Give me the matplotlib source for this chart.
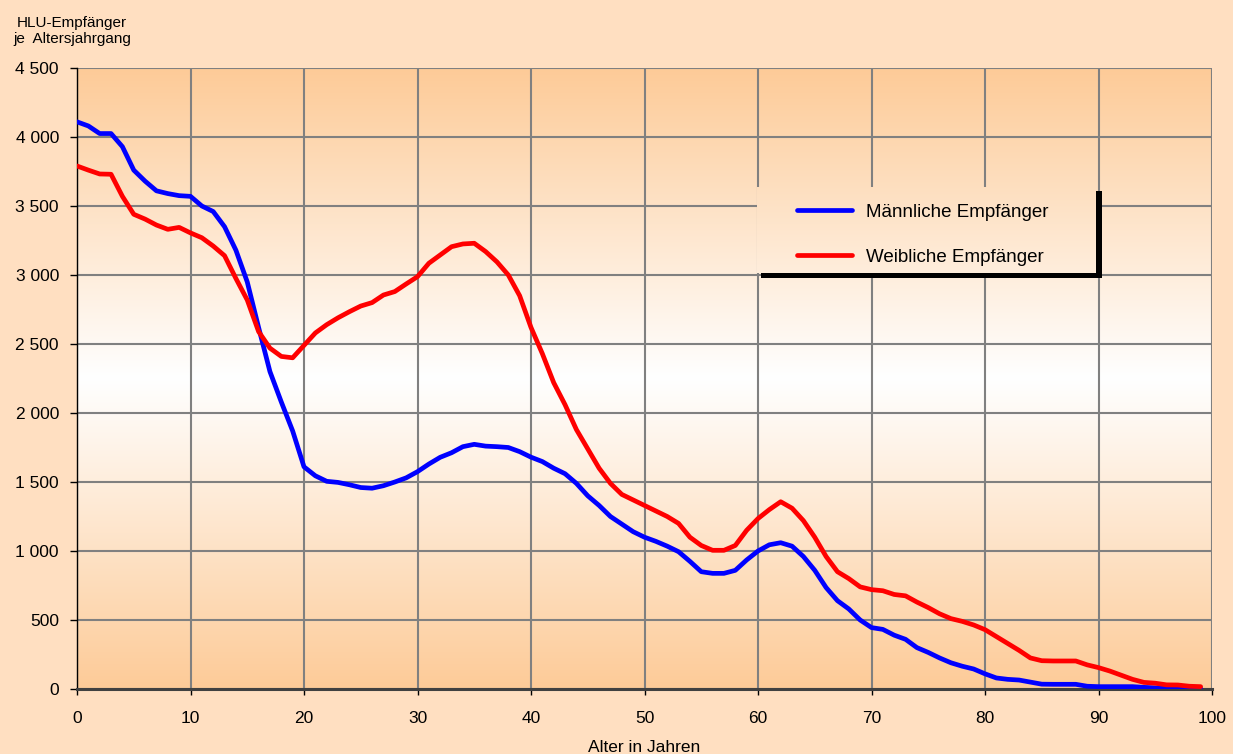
import numpy as np
import matplotlib.pyplot as plt
from matplotlib.patches import Rectangle
from matplotlib.ticker import FuncFormatter

plt.rcParams['font.family'] = ['Liberation Sans', 'DejaVu Sans']

# HLU-Empfänger je Altersjahrgang, Alter 0..99
alter = np.arange(0, 100)

maenner = [4110, 4080, 4025, 4025, 3930, 3760, 3680, 3610, 3590, 3575,
           3570, 3500, 3460, 3350, 3180, 2950, 2620, 2300, 2080, 1870,
           1610, 1545, 1505, 1497, 1480, 1460, 1455, 1473, 1500, 1530,
           1575, 1630, 1679, 1712, 1756, 1773, 1760, 1756, 1750, 1720,
           1680, 1648, 1600, 1560, 1490, 1400, 1330, 1250, 1195, 1140,
           1100, 1070, 1035, 995, 925, 850, 838, 838, 860, 935,
           1000, 1045, 1060, 1035, 960, 860, 735, 640, 580, 500,
           445, 432, 390, 360, 300, 265, 225, 190, 165, 145,
           110, 80, 70, 65, 50, 35, 34, 34, 34, 20,
           17, 17, 17, 17, 12, 8, 6, 5, 4, 3]

frauen = [3790, 3760, 3732, 3730, 3570, 3440, 3405, 3362, 3331, 3345,
          3305, 3270, 3210, 3140, 2975, 2819, 2590, 2470, 2410, 2400,
          2490, 2580, 2640, 2690, 2734, 2775, 2800, 2855, 2880, 2935,
          2988, 3085, 3145, 3205, 3225, 3230, 3170, 3095, 3000, 2850,
          2620, 2430, 2220, 2060, 1880, 1740, 1600, 1490, 1410, 1370,
          1330, 1290, 1250, 1200, 1100, 1040, 1005, 1005, 1040, 1150,
          1235, 1300, 1357, 1310, 1220, 1100, 960, 850, 800, 740,
          720, 712, 685, 675, 630, 590, 545, 510, 490, 464,
          430, 380, 330, 280, 225, 205, 203, 203, 203, 175,
          155, 130, 100, 70, 48, 42, 30, 29, 20, 17]

x_ticks = np.arange(0, 101, 10)
y_ticks = np.arange(0, 4501, 500)

bg = '#FFDFC1'
orange = np.array([253, 203, 152]) / 255.0

fig = plt.figure(figsize=(12.33, 7.54), dpi=100, facecolor=bg)
ax = fig.add_axes([77 / 1233, 65 / 754, 1135 / 1233, 621 / 754])

# vertical gradient: orange at top and bottom, white in the middle
t = np.abs(np.linspace(-1, 1, 400))[:, None]
grad = (1 - t)[..., None] * np.ones(3) + t[..., None] * orange
grad = np.repeat(grad, 2, axis=1)
ext = [0, 100, 0, 4500]
ax.imshow(grad, extent=ext, aspect='auto', zorder=0, interpolation='bilinear')

ax.set_xlim(0, 100)
ax.set_ylim(0, 4500)
ax.set_axisbelow(True)
ax.grid(True, color='#808080', linewidth=1.5)

ax.plot(alter, maenner, color='#0000FF', linewidth=3.4, label='Männliche Empfänger',
        zorder=3, solid_joinstyle='round', solid_capstyle='round')
ax.plot(alter, frauen, color='#FF0000', linewidth=3.4, label='Weibliche Empfänger',
        zorder=3, solid_joinstyle='round', solid_capstyle='round')

# legend box with black shadow, filled with the same gradient
shadow = Rectangle((0.603, 0.662), 0.300, 0.140, transform=ax.transAxes,
                   facecolor='black', edgecolor='none', zorder=1)
ax.add_patch(shadow)
face = Rectangle((0.599, 0.670), 0.298, 0.138, transform=ax.transAxes,
                 facecolor='none', edgecolor='none', zorder=1.1)
ax.add_patch(face)
im2 = ax.imshow(grad, extent=ext, aspect='auto', zorder=1.2, interpolation='bilinear')
im2.set_clip_path(face)
ax.set_xlim(0, 100)
ax.set_ylim(0, 4500)

ax.legend(loc='upper left', bbox_to_anchor=(0.634, 0.782), frameon=False,
          fontsize=13.5, handlelength=2.93, handletextpad=0.75, labelspacing=1.5,
          borderpad=0, borderaxespad=0)

ax.set_xticks(x_ticks)
ax.set_yticks(y_ticks)
ax.yaxis.set_major_formatter(FuncFormatter(lambda v, p: f"{v:,.0f}".replace(",", " ")))
ax.tick_params(axis='x', direction='out', length=4.5, width=1, pad=11.5, labelsize=12.5)
ax.tick_params(axis='y', direction='out', length=5, width=1, pad=8, labelsize=12.5)

for s in ['top', 'right']:
    ax.spines[s].set_visible(False)
ax.spines['left'].set_color('black')
ax.spines['left'].set_linewidth(1)
ax.spines['bottom'].set_color('#404040')
ax.spines['bottom'].set_linewidth(2.2)

fig.text(72 / 1233, 1 - 31 / 754, 'HLU-Empfänger\nje  Altersjahrgang', ha='center', va='center',
         fontsize=11, linespacing=1.2)
fig.text(644 / 1233, 1 - 747 / 754, 'Alter in Jahren', ha='center', va='center', fontsize=12.5)

fig.savefig('out.png', dpi=100, facecolor=bg)
